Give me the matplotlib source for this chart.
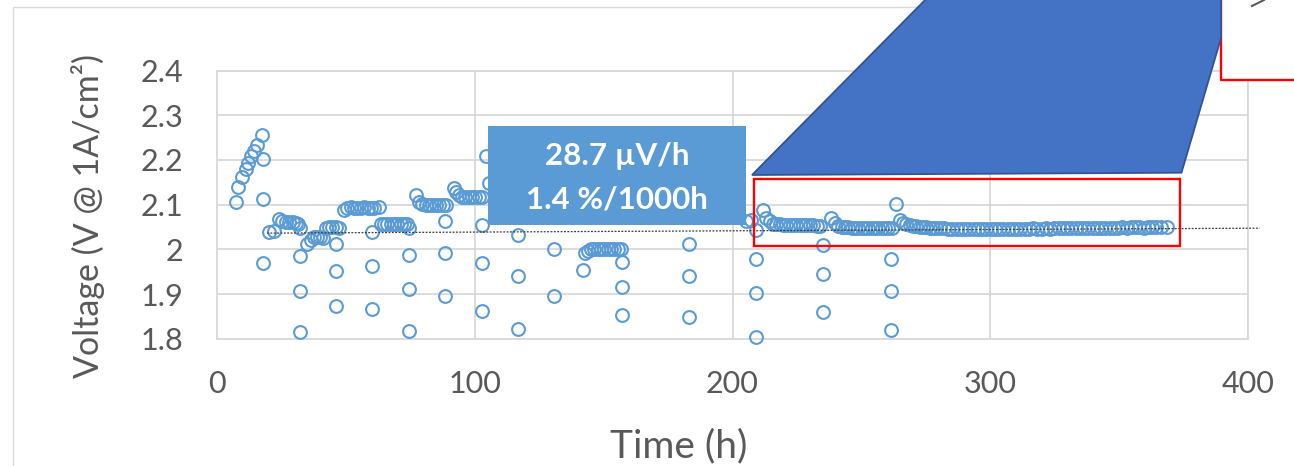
import matplotlib.pyplot as plt
from matplotlib.patches import Rectangle, Polygon
from matplotlib.lines import Line2D

plt.rcParams['font.family'] = ['Lato', 'DejaVu Sans']

# --- measured cell voltage at 1 A/cm2 (time in h, voltage in V) ---
# start-up ramp
ramp_t = [7.3, 8.3, 9.8, 11.1, 12.0, 13.3, 14.4, 15.7, 17.6]
ramp_v = [2.106, 2.139, 2.162, 2.180, 2.194, 2.208, 2.221, 2.234, 2.256]

# points taken during the periodic polarisation checks
pol_t = [18.0, 18.0, 18.0, 32.1, 32.1, 32.1, 32.1, 46.1, 46.1, 46.1,
         60.3, 60.3, 60.3, 74.6, 74.6, 74.6, 74.6, 88.5, 88.5, 88.5,
         102.8, 102.8, 102.8, 116.6, 116.6, 116.6, 130.9, 130.9, 141.9,
         157.2, 157.2, 157.2, 183.3, 183.3, 183.3, 209.2, 209.2, 209.2, 209.2,
         235.3, 235.3, 235.3, 261.4, 261.4, 261.4]
pol_v = [2.202, 2.112, 1.969, 2.048, 1.986, 1.908, 1.815, 2.012, 1.951, 1.874,
         2.040, 1.964, 1.867, 2.048, 1.987, 1.912, 1.817, 2.064, 1.992, 1.897,
         2.054, 1.970, 1.863, 2.033, 1.940, 1.822, 2.002, 1.897, 1.955,
         1.972, 1.917, 1.854, 2.012, 1.940, 1.849, 2.043, 1.979, 1.903, 1.805,
         2.011, 1.946, 1.860, 1.979, 1.907, 1.819]

# constant-current holds
hold1_t = [20.2, 22.1, 24.1, 25.4, 26.7, 28.0, 29.3, 30.6, 31.6]
hold1_v = [2.040, 2.042, 2.068, 2.064, 2.062, 2.062, 2.061, 2.060, 2.057]

hold2_t = [35.1, 36.5, 37.6, 38.8, 40.0, 41.3, 42.4, 43.6, 44.8, 46.0, 47.2]
hold2_v = [2.013, 2.022, 2.027, 2.028, 2.027, 2.026, 2.049, 2.050, 2.050, 2.050, 2.049]

hold3_t = [49.3, 50.6, 51.9, 53.2, 54.5, 55.8, 57.1, 58.4, 59.7, 61.0, 62.9]
hold3_v = [2.089, 2.092, 2.094, 2.093, 2.092, 2.092, 2.094, 2.093, 2.092, 2.092, 2.096]

hold4_t = [63.6, 64.9, 66.1, 67.4, 68.7, 70.0, 71.3, 72.6, 73.9]
hold4_v = [2.057, 2.058, 2.057, 2.057, 2.057, 2.057, 2.058, 2.058, 2.057]

hold5_t = [77.2, 78.4, 79.7, 81.0, 82.3, 83.6, 84.9, 86.2, 87.5, 88.8]
hold5_v = [2.121, 2.107, 2.101, 2.100, 2.100, 2.100, 2.100, 2.100, 2.100, 2.100]

hold6_t = [91.8, 92.6, 93.8, 95.0, 96.3, 97.6, 98.9, 100.2, 101.5, 102.8]
hold6_v = [2.137, 2.128, 2.122, 2.118, 2.118, 2.118, 2.117, 2.117, 2.117, 2.118]

hold7_t = [104.3, 105.6]
hold7_v = [2.209, 2.149]

hold9_t = [142.9, 143.8, 145.1, 146.4, 147.7, 149.0, 150.3, 151.6, 152.9, 154.2, 155.5, 156.9]
hold9_v = [1.992, 1.997, 2.000, 2.001, 2.002, 2.002, 2.002, 2.002, 2.002, 2.002, 2.002, 2.001]

hold10_t = [205.3, 207.3, 212.0, 213.1, 214.4, 215.7, 217.0, 218.3, 219.6, 220.9,
            222.2, 223.5, 224.8, 226.1, 227.4, 228.7, 230.0, 231.3, 232.6, 233.9]
hold10_v = [2.063, 2.065, 2.089, 2.070, 2.063, 2.057, 2.056, 2.056, 2.055, 2.055,
            2.055, 2.055, 2.055, 2.054, 2.054, 2.054, 2.054, 2.054, 2.053, 2.053]

hold11_t = [238.3, 239.6, 241.0, 242.3, 243.6, 244.9, 246.2, 247.5, 248.8, 250.1,
            251.4, 252.7, 254.0, 255.3, 256.6, 257.9, 259.2, 260.5, 261.8]
hold11_v = [2.070, 2.059, 2.053, 2.051, 2.050, 2.050, 2.049, 2.049, 2.049, 2.048,
            2.048, 2.048, 2.048, 2.047, 2.047, 2.047, 2.047, 2.047, 2.047]

hold12_t = [263.6, 264.9, 266.1, 267.4, 268.7, 270.0, 271.3, 272.6, 273.9, 275.2,
            276.5, 277.8, 279.1, 280.4]
hold12_v = [2.102, 2.066, 2.060, 2.056, 2.054, 2.053, 2.052, 2.051, 2.050, 2.050,
            2.049, 2.049, 2.048, 2.048]

hold13_t = [282.0, 283.7, 285.3, 287.0, 288.6, 290.3, 291.9, 293.6, 295.2, 296.9,
            298.5, 300.2, 301.8, 303.5, 305.1, 306.8, 308.4, 310.1, 311.7, 313.4,
            315.0, 316.7, 318.3, 320.0, 321.6, 323.3, 324.9, 326.6, 328.2, 329.9,
            331.5, 333.2, 334.8, 336.5, 338.1, 339.8, 341.4, 343.1, 344.7, 346.4,
            348.0, 349.7, 351.3, 353.0, 354.6, 356.3, 357.9, 359.6, 361.2, 362.9,
            364.5, 366.2, 368.6]
hold13_v = [2.047, 2.046, 2.046, 2.045, 2.045, 2.045, 2.045, 2.045, 2.046, 2.045,
            2.045, 2.046, 2.046, 2.045, 2.046, 2.045, 2.046, 2.046, 2.045, 2.046,
            2.046, 2.047, 2.046, 2.046, 2.047, 2.046, 2.047, 2.047, 2.048, 2.047,
            2.047, 2.048, 2.048, 2.047, 2.048, 2.048, 2.048, 2.049, 2.048, 2.049,
            2.049, 2.049, 2.050, 2.049, 2.050, 2.050, 2.050, 2.049, 2.050, 2.050,
            2.050, 2.050, 2.050]

# linear degradation fit
slope_uv_per_h = 28.7
fit_t0, fit_v0 = 19.4, 2.0366
fit_t1 = 404.5

yticks = [1.8, 1.9, 2.0, 2.1, 2.2, 2.3, 2.4]
ytick_labels = ['1.8', '1.9', '2', '2.1', '2.2', '2.3', '2.4']
xticks = [0, 100, 200, 300, 400]

W, H = 1294, 466


def px(x, y):
    # pixel position (origin top-left) -> figure fraction
    return (x / W, 1 - y / H)


blue = '#5B9BD5'
grid_c = '#D9D9D9'
grey = '#595959'

fig = plt.figure(figsize=(W / 100, H / 100), dpi=100)
ax = fig.add_axes([217 / W, 1 - 339 / H, 1031 / W, 268.5 / H])

time_h = (ramp_t + pol_t + hold1_t + hold2_t + hold3_t + hold4_t + hold5_t + hold6_t
          + hold7_t + hold9_t + hold10_t + hold11_t + hold12_t + hold13_t)
volt = (ramp_v + pol_v + hold1_v + hold2_v + hold3_v + hold4_v + hold5_v + hold6_v
        + hold7_v + hold9_v + hold10_v + hold11_v + hold12_v + hold13_v)

ax.plot(time_h, volt, ls='none', marker='o', ms=9.2, mfc='none', mec=blue, mew=1.5,
        zorder=3, clip_on=False)

slope = slope_uv_per_h * 1e-6
ax.plot([fit_t0, fit_t1], [fit_v0, fit_v0 + slope * (fit_t1 - fit_t0)],
        color='#3a3a3a', lw=0.9, ls=(0, (1.5, 1.2)), zorder=4, clip_on=False)

ax.set_xlim(0, 400)
ax.set_ylim(1.8, 2.4)
ax.set_xticks(xticks)
ax.set_yticks(yticks)
ax.set_yticklabels(ytick_labels)
ax.grid(True, color=grid_c, lw=1.3)
ax.set_axisbelow(True)
for s in ax.spines.values():
    s.set_color(grid_c)
    s.set_linewidth(1.3)
ax.tick_params(length=0, labelsize=22, colors=grey)
ax.tick_params(axis='y', pad=24)
ax.tick_params(axis='x', pad=22)

fig.text(88 / W, 1 - 216.5 / H, 'Voltage (V @ 1A/cm²)', rotation=90,
         ha='center', va='center', fontsize=24.5, color=grey)
fig.text(679 / W, 1 - 457 / H, 'Time (h)', ha='center', va='baseline',
         fontsize=28, color=grey)

# highlighted steady-state window
ax.add_patch(Rectangle((208.5, 2.007), 165.1, 0.150, fill=False, ec='#FF0000',
                       lw=1.7, zorder=5, clip_on=False))

# outer chart border
fig.add_artist(Rectangle(px(13, 500), (1400 - 13) / W, (500 - 7) / H, fill=False,
                         ec=grid_c, lw=1, transform=fig.transFigure, zorder=1))

# slope annotation box
fig.add_artist(Rectangle(px(488, 225), 258 / W, 99 / H, fc=blue, ec='none',
                         transform=fig.transFigure, zorder=6))
pct_per_1000h = slope * 1000 / fit_v0 * 100
fig.text(617 / W, 1 - 165 / H, f'{slope_uv_per_h:.1f} µV/h', ha='center',
         va='baseline', fontsize=22.5, fontweight='bold', color='white', zorder=7)
fig.text(617 / W, 1 - 208 / H, f'{pct_per_1000h:.1f} %/1000h', ha='center',
         va='baseline', fontsize=22.5, fontweight='bold', color='white', zorder=7)

# magnified inset frame (top right) and its callout
fig.add_artist(Rectangle(px(1221, 80), 100 / W, 90 / H, fc='white', ec='none',
                         transform=fig.transFigure, zorder=6))
fig.add_artist(Line2D([1221 / W, 1221 / W, 1.01], [1 - 0 / H, 1 - 80 / H, 1 - 80 / H],
                      color='#FF0000', lw=1.7, transform=fig.transFigure, zorder=7))
fig.add_artist(Line2D([1252 / W, 1264 / W], [1 - 6 / H, 1 - 0 / H], color=grey,
                      lw=1.5, transform=fig.transFigure, zorder=7))
callout = [px(752, 175), px(930, -5), px(1221, -5), px(1221, 38), px(1181.5, 172.7)]
fig.add_artist(Polygon(callout, closed=True, fc='#4472C4', ec='#2F5597', lw=1.3,
                       transform=fig.transFigure, zorder=8))

fig.savefig('out.png', dpi=100)
